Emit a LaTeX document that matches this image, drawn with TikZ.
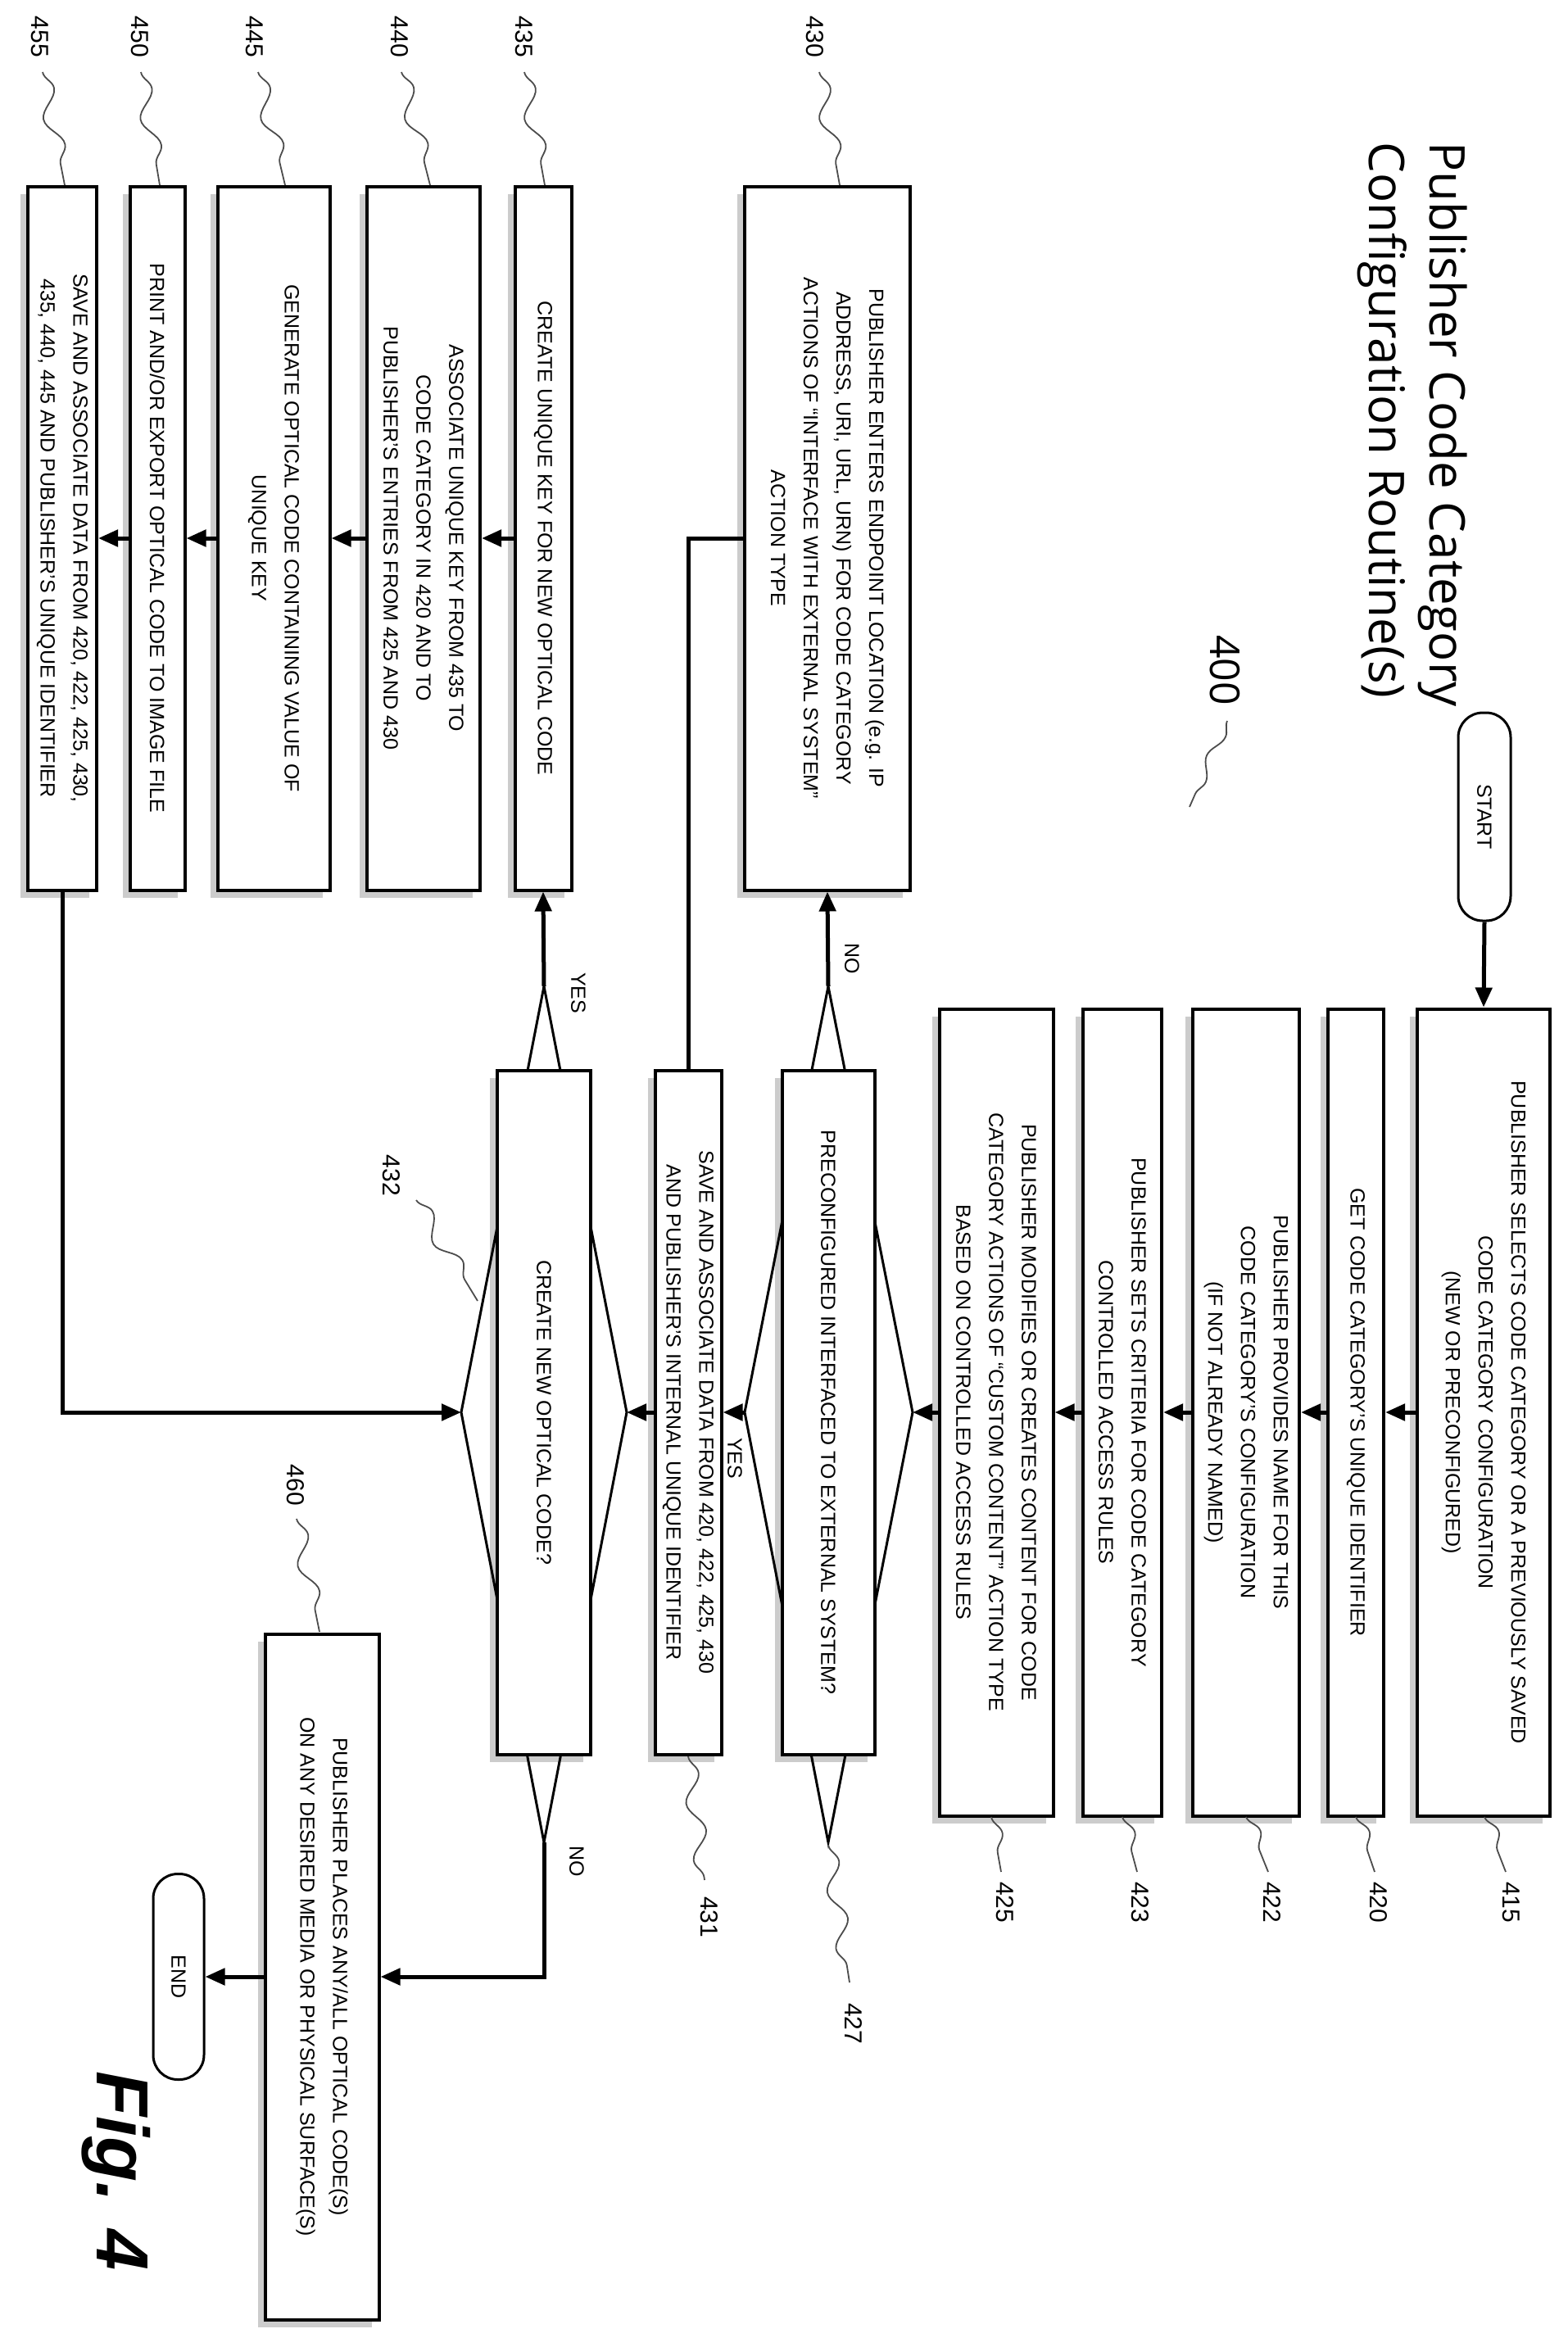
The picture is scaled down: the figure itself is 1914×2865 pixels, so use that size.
\documentclass[tikz,border=0pt]{standalone}
\usepackage{fontspec}
\setmainfont{Liberation Sans}
\newfontfamily\titlefont{Open Sans}
\usetikzlibrary{arrows.meta,decorations.pathmorphing}
\newcommand\bxf{\fontsize{25}{40}\selectfont}
\newcommand\lbf{\fontsize{30}{34}\selectfont}
\newcommand\mybox[6]{%
  \node[shbox, minimum width=#5pt, minimum height=#4pt] at ({#2-9},{#3+9}) {};
  \node[box, minimum width=#5pt, minimum height=#4pt] (#1) at (#2,#3) {#6};}
\begin{document}
\begin{tikzpicture}[x=1pt,y=-1pt,
  box/.style={draw, line width=4pt, fill=white, rotate=-90, align=center, font=\bxf, inner sep=0pt},
  shbox/.style={fill=gray!40, rotate=-90, inner sep=0pt},
  pill/.style={draw, line width=3pt, fill=white, rotate=-90, rounded corners=30pt, font=\bxf, inner sep=0pt},
  arr/.style={line width=5pt, -{Triangle[length=24pt,width=20pt]}},
  ln/.style={line width=5pt},
  dia/.style={line width=3pt},
  squig/.style={decorate, decoration={snake, amplitude=10pt, segment length=70pt}, line width=1.8pt, gray!60!black},
  squigs/.style={decorate, decoration={snake, amplitude=6pt, segment length=60pt}, line width=1.8pt, gray!60!black},
  lbl/.style={rotate=-90, font=\lbf},
  yn/.style={rotate=-90, font=\bxf}]
\useasboundingbox (0,0) rectangle (1914,2865);
% title
\node[rotate=-90, anchor=north west, align=left, font=\titlefont\fontsize{60}{74}\selectfont] (title) at (1795,170) {Publisher Code Category\\Configuration Routine(s)};
\node[rotate=-90, font=\titlefont\fontsize{50}{56}\selectfont] (n400) at (1495,818) {400};
\draw[squigs] (1498,880) -- (1452,985);
% start
\node[pill, minimum width=254pt, minimum height=64pt] (start) at (1812,997) {START};
% right column
\mybox{b415}{1811}{1724}{162}{985}{PUBLISHER SELECTS CODE CATEGORY OR A PREVIOUSLY SAVED\\CODE CATEGORY CONFIGURATION\\(NEW OR PRECONFIGURED)}
\mybox{b420}{1655}{1724}{68}{985}{GET CODE CATEGORY'S UNIQUE IDENTIFIER}
\mybox{b422}{1521}{1724}{130}{985}{PUBLISHER PROVIDES NAME FOR THIS\\CODE CATEGORY'S CONFIGURATION\\(IF NOT ALREADY NAMED)}
\mybox{b423}{1370}{1724}{96}{985}{PUBLISHER SETS CRITERIA FOR CODE CATEGORY\\CONTROLLED ACCESS RULES}
\mybox{b425}{1216}{1724}{139}{985}{PUBLISHER MODIFIES OR CREATES CONTENT FOR CODE\\CATEGORY ACTIONS OF “CUSTOM CONTENT” ACTION TYPE\\BASED ON CONTROLLED ACCESS RULES}
% diamond 427
\coordinate (t427) at (1011,1204); \coordinate (b427) at (1011,2249);
\coordinate (l427) at (909,1724); \coordinate (r427) at (1114,1724);
\node[shbox, minimum width=835pt, minimum height=113pt] at (1002,1733) {};
\draw[dia] (t427) -- (r427) -- (b427) -- (l427) -- cycle;
\node[box, minimum width=835pt, minimum height=113pt] (d427) at (1011,1724) {PRECONFIGURED INTERFACED TO EXTERNAL SYSTEM?};
\mybox{b431}{840}{1724}{81}{835}{SAVE AND ASSOCIATE DATA FROM 420, 422, 425, 430\\AND PUBLISHER'S INTERNAL UNIQUE IDENTIFIER}
% diamond 432
\coordinate (t432) at (664,1204); \coordinate (b432) at (664,2249);
\coordinate (l432) at (563,1724); \coordinate (r432) at (765,1724);
\node[shbox, minimum width=835pt, minimum height=114pt] at (655,1733) {};
\draw[dia] (t432) -- (r432) -- (b432) -- (l432) -- cycle;
\node[box, minimum width=835pt, minimum height=114pt] (d432) at (664,1724) {CREATE NEW OPTICAL CODE?};
% left column
\mybox{b430}{1010}{657}{202}{859}{PUBLISHER ENTERS ENDPOINT LOCATION (e.g. IP\\ADDRESS, URI, URL, URN) FOR CODE CATEGORY\\ACTIONS OF “INTERFACE WITH EXTERNAL SYSTEM”\\ACTION TYPE}
\mybox{b435}{663}{657}{69}{859}{CREATE UNIQUE KEY FOR NEW OPTICAL CODE}
\mybox{b440}{517}{657}{138}{859}{ASSOCIATE UNIQUE KEY FROM 435 TO\\CODE CATEGORY IN 420 AND TO\\PUBLISHER'S ENTRIES FROM 425 AND 430}
\mybox{b445}{334}{657}{137}{859}{GENERATE OPTICAL CODE CONTAINING VALUE OF\\UNIQUE KEY}
\mybox{b450}{192}{657}{67}{859}{PRINT AND/OR EXPORT OPTICAL CODE TO IMAGE FILE}
\mybox{b455}{76}{657}{84}{859}{SAVE AND ASSOCIATE DATA FROM 420, 422, 425, 430,\\435, 440, 445 AND PUBLISHER'S UNIQUE IDENTIFIER}
% bottom
\mybox{b460}{393}{2413}{139}{837}{PUBLISHER PLACES ANY/ALL OPTICAL CODE(S)\\ON ANY DESIRED MEDIA OR PHYSICAL SURFACE(S)}
\node[pill, minimum width=251pt, minimum height=62pt] (end) at (218,2413) {END};
\node[rotate=-90, font=\bfseries\itshape\fontsize{90}{100}\selectfont] (fig) at (142,2650) {Fig. 4};
% connectors
\draw[arr] (start.east) -- (b415.west);
\draw[arr] (b415.south) -- (b420.north);
\draw[arr] (b420.south) -- (b422.north);
\draw[arr] (b422.south) -- (b423.north);
\draw[arr] (b423.south) -- (b425.north);
\draw[arr] (b425.south) -- (r427);
\draw[arr] (t427) -- (b430.east);
\draw[arr] (l427) -- (b431.north);
\draw[ln] (b430.south) -| (b431.west);
\draw[arr] (b431.south) -- (r432);
\draw[arr] (t432) -- (b435.east);
\draw[arr] (b435.south) -- (b440.north);
\draw[arr] (b440.south) -- (b445.north);
\draw[arr] (b445.south) -- (b450.north);
\draw[arr] (b450.south) -- (b455.north);
\draw[arr] (b455.east) |- (l432);
\coordinate (c460) at (664,2413);
\draw[arr] (b432) -- (c460) -- (b460.north);
\draw[arr] (b460.south) -- (end.north);
% yes/no
\node[yn] (no1) at (1040,1170) {NO};
\node[yn] (yes1) at (897,1780) {YES};
\node[yn] (yes2) at (706,1212) {YES};
\node[yn] (no2) at (704,2272) {NO};
% reference labels
\node[lbl] (l415) at (1845,2322) {415};
\node[lbl] (l420) at (1683,2322) {420};
\node[lbl] (l422) at (1553,2322) {422};
\node[lbl] (l423) at (1392,2322) {423};
\node[lbl] (l425) at (1227,2322) {425};
\node[lbl] (l427) at (1042,2470) {427};
\node[lbl] (l431) at (866,2340) {431};
\node[lbl] (l432) at (478,1435) {432};
\node[lbl] (l460) at (361,1813) {460};
\node[lbl] (l430) at (995,45) {430};
\node[lbl] (l435) at (640,45) {435};
\node[lbl] (l440) at (488,45) {440};
\node[lbl] (l445) at (311,45) {445};
\node[lbl] (l450) at (171,45) {450};
\node[lbl] (l455) at (49,45) {455};
\draw[squig] (1812,2218) -- (1838,2285);
\draw[squig] (1655,2218) -- (1678,2285);
\draw[squig] (1521,2218) -- (1548,2285);
\draw[squig] (1370,2218) -- (1388,2285);
\draw[squig] (1210,2218) -- (1222,2285);
\draw[squig] (1011,2252) -- (1037,2420);
\draw[squig] (840,2144) -- (860,2295);
\draw[squig] (508,1465) -- (583,1588);
\draw[squig] (362,1854) -- (390,1992);
\draw[squig] (1000,88) -- (1025,226);
\draw[squig] (640,88) -- (665,226);
\draw[squig] (490,88) -- (525,226);
\draw[squig] (315,88) -- (348,226);
\draw[squig] (172,88) -- (195,226);
\draw[squig] (52,88) -- (79,226);
\end{tikzpicture}
\end{document}
